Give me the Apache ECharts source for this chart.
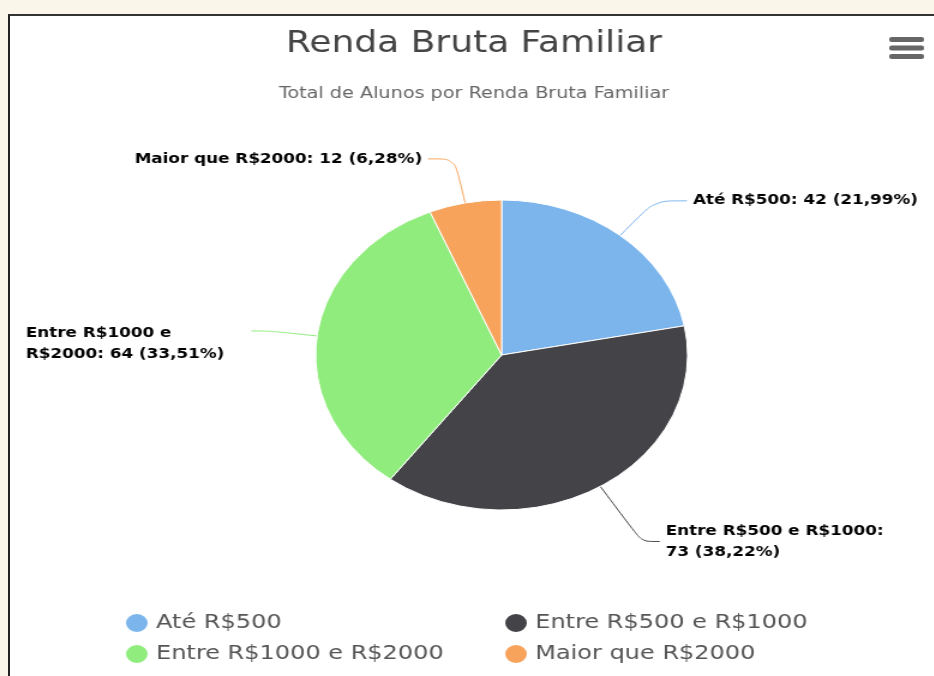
<!DOCTYPE html>
<html>
<head>
<meta charset="utf-8">
<script src="https://cdn.jsdelivr.net/npm/echarts@6/dist/echarts.min.js"></script>
<style>
  html, body { margin: 0; padding: 0; }
  body { width: 934px; height: 676px; background: #faf7ea; position: relative; overflow: hidden; }
  #panel { position: absolute; left: 8px; top: 14px; width: 940px; height: 680px;
           background: #fff; border-left: 2px solid #222; border-top: 2px solid #333; }
  /* the source screenshot is stretched horizontally, so the chart is too */
  #chart { position: absolute; left: 0; top: 0; width: 778px; height: 676px;
           transform: scaleX(1.2); transform-origin: 0 0; }
</style>
</head>
<body>
<div id="panel"></div>
<div id="chart"></div>
<script>
const categories = ['Até R$500', 'Entre R$500 e R$1000', 'Entre R$1000 e R$2000', 'Maior que R$2000'];
const values = [42, 73, 64, 12];
const colors = ['#7cb5ec', '#434348', '#90ed7d', '#f7a35c'];

const labelFont = { fontFamily: 'DejaVu Sans', fontSize: 14, fontWeight: 'bold', color: '#000', lineHeight: 21 };
const fmt = p => p.name + ': ' + p.value + ' (' + p.percent.toFixed(2).replace('.', ',') + '%)';

// per-slice label tweaks, so the callouts sit where the original ones do
const labelOpts = [
  { label: {}, line: { length: 45, length2: 27 } },
  { label: { width: 190, overflow: 'break', padding: [4, 0, 0, 0] }, line: { length: 65, length2: 15 } },
  {
    label: {
      width: 170, overflow: 'break', padding: [26, 13, 0, 0],
      formatter: p => '{l|' + fmt(p) + '}',
      rich: { l: Object.assign({ align: 'left' }, labelFont) }
    },
    line: { length: 40, length2: 15 }
  },
  { label: {}, line: { length: 45, length2: 22 } }
];

const chart = echarts.init(document.getElementById('chart'));

const pieData = categories.map((name, i) => ({
  name: name,
  value: values[i],
  label: labelOpts[i].label,
  labelLine: labelOpts[i].line
}));

const legendText = { fontFamily: 'DejaVu Sans', fontSize: 20, color: '#555' };

chart.setOption({
  animation: false,
  color: colors,
  title: {
    text: 'Renda Bruta Familiar',
    subtext: 'Total de Alunos por Renda Bruta Familiar',
    left: 390,
    top: 24,
    textAlign: 'center',
    itemGap: 27,
    textStyle: { fontFamily: 'DejaVu Sans', fontSize: 30, fontWeight: 'normal', color: '#444' },
    subtextStyle: { fontFamily: 'DejaVu Sans', fontSize: 16, color: '#666' }
  },
  legend: [
    {
      orient: 'vertical', left: 98, top: 607, itemGap: 9,
      itemWidth: 22, itemHeight: 20, icon: 'circle',
      data: [categories[0], categories[2]],
      textStyle: legendText
    },
    {
      orient: 'vertical', left: 414, top: 607, itemGap: 9,
      itemWidth: 22, itemHeight: 20, icon: 'circle',
      data: [categories[1], categories[3]],
      textStyle: legendText
    }
  ],
  graphic: [0, 1, 2].map(k => ({
    type: 'rect',
    shape: { x: 741, y: 37 + k * 8.5, width: 29, height: 5, r: 2 },
    style: { fill: '#666' }
  })),
  series: [{
    type: 'pie',
    center: [418, 355],
    radius: 155,
    startAngle: 90,
    clockwise: true,
    itemStyle: { borderColor: '#fff', borderWidth: 1 },
    label: Object.assign({ show: true, position: 'outside', formatter: fmt }, labelFont),
    labelLine: { show: true, smooth: 0.3, lineStyle: { width: 1 } },
    emphasis: { disabled: true },
    data: pieData
  }]
});
</script>
</body>
</html>
